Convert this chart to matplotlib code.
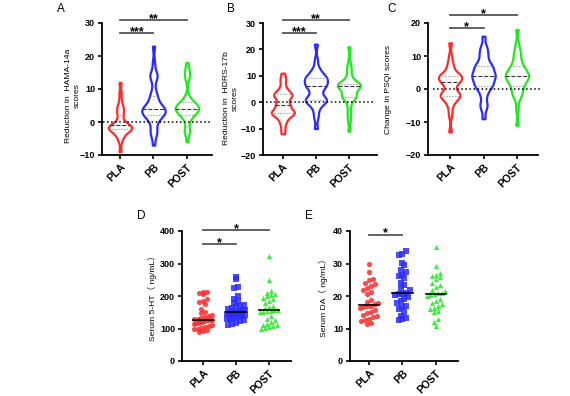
import numpy as np
import matplotlib
matplotlib.use("Agg")
import matplotlib.pyplot as plt

plt.rcParams['font.family'] = ['Liberation Sans', 'Noto Sans CJK SC', 'DejaVu Sans']
plt.rcParams['font.weight'] = 'bold'

groups = ['PLA', 'PB', 'POST']
colors = ['#ff2b2b', '#2b2bff', '#22e822']

# A - reduction in HAMA-14a scores
hama_pla = [-9, -6, -5, -4, -4, -3, -3, -3, -1, -2, -2, -2, -2, -2, -2, -2,
            -1, -1, -1, -1, 0, 0, 1, 2, 3, 3, 4, 5, 5, 7, 9, 12]
hama_pb = [-7, -4, -3, -3, -1, 0, 1, 2, 2, 2, 2, 3, 3, 3, 4, 4,
           4, 4, 4, 5, 5, 6, 7, 8, 8, 10, 13, 14, 14, 15, 18, 23]
hama_post = [-6, -3, -3, -2, 0, 1, 2, 2, 2, 3, 3, 3, 4, 4, 4, 4,
             4, 4, 5, 5, 5, 5, 6, 6, 6, 7, 8, 13, 14, 15, 16, 18]

# B - reduction in HDRS-17b scores
hdrs_pla = [-12, -10, -8, -7, -6, -5, -5, -4, -4, -4, -4, -4, -3, -3, -2, -1,
            -1, -1, 0, 1, 2, 2, 3, 3, 3, 3, 4, 5, 6, 8, 9, 11]
hdrs_pb = [-10, -6, -4, -2, -1, 0, 0, 1, 1, 1, 1, 2, 3, 4, 5, 6,
           6, 6, 7, 7, 8, 8, 9, 9, 9, 10, 10, 11, 12, 13, 16, 22]
hdrs_post = [-11, -7, -5, -3, -1, 1, 2, 2, 2, 2, 3, 3, 4, 5, 5, 6,
             6, 6, 6, 6, 7, 7, 7, 7, 7, 8, 9, 10, 12, 13, 15, 21]

# C - change in PSQI scores
psqi_pla = [-13, -8, -6, -4, -4, -3, -2, -2, -2, -2, -2, -1, -1, 0, 1, 2,
            2, 2, 3, 3, 3, 4, 4, 4, 4, 4, 5, 6, 7, 8, 10, 14]
psqi_pb = [-9, -6, -5, -4, -2, -1, 0, 1, 1, 1, 2, 2, 3, 3, 4, 4,
           4, 4, 5, 5, 6, 6, 7, 7, 7, 8, 9, 10, 11, 12, 13, 16]
psqi_post = [-11, -6, -3, -2, -1, -1, 0, 1, 1, 2, 2, 3, 3, 3, 4, 4,
             4, 4, 5, 5, 5, 6, 6, 7, 7, 8, 9, 10, 11, 12, 14, 18]

# D - serum 5-HT (ng/mL)
ht_pla = [213, 211, 209, 207, 190, 186, 182, 175, 160, 152, 148, 143, 138, 135, 132, 130, 128,
          127, 126, 125, 122, 120, 118, 116, 113, 110, 108, 105, 102, 100, 97, 95, 92, 90]
ht_pb = [258, 252, 228, 224, 200, 192, 185, 178, 172, 168, 165, 162, 160, 158, 156, 154, 152,
         151, 150, 148, 146, 144, 142, 140, 138, 135, 132, 130, 128, 125, 122, 118, 115, 112]
ht_post = [322, 248, 215, 210, 206, 204, 200, 195, 190, 185, 178, 170, 165, 162, 158, 156,
           155, 154, 152, 150, 140, 130, 125, 120, 115, 112, 110, 108, 105, 103, 100]

# E - serum DA (ng/mL)
da_pla = [29.7, 27.3, 25.2, 24.8, 24.0, 23.6, 23.2, 22.5, 22.0, 21.2, 20.5, 18.8, 18.3, 17.8, 17.4,
          17.0, 16.8, 16.5, 16.2, 15.6, 15.2, 14.8, 14.3, 13.8, 13.5, 13.0, 12.6, 12.2, 11.8, 11.3]
da_pb = [33.8, 33.0, 32.5, 30.2, 29.5, 28.0, 27.5, 26.5, 26.2, 25.5, 24.0, 23.5, 22.5, 21.8, 21.0,
         20.7, 20.5, 20.2, 19.8, 19.0, 18.5, 18.0, 17.0, 16.5, 16.0, 15.0, 14.0, 13.2, 12.8, 12.5]
da_post = [35.0, 29.2, 27.0, 26.5, 26.2, 25.8, 25.3, 24.0, 23.5, 22.8, 22.0, 21.5, 21.0, 20.8, 20.6,
           20.4, 20.0, 19.2, 18.5, 18.0, 17.5, 16.8, 16.3, 16.0, 15.5, 15.0, 13.0, 12.0, 10.8]

fig = plt.figure(figsize=(5.7, 3.96), dpi=100)
W, H = 570, 396


def add_ax(l, r, t, b):
    return fig.add_axes([l / W, 1 - b / H, (r - l) / W, (b - t) / H])


def style(ax, yticks, xlim, ylabel, labpos, letter, lpos):
    ax.spines[['top', 'right']].set_visible(False)
    for s in ['left', 'bottom']:
        ax.spines[s].set_linewidth(1.3)
    ax.set_ylim(yticks[0], yticks[-1])
    ax.set_yticks(yticks)
    ax.set_xlim(*xlim)
    ax.set_xticks(range(3))
    ax.set_xticklabels(groups, rotation=45, ha='right', rotation_mode='anchor')
    ax.tick_params(labelsize=6.5, width=1.2, length=3, pad=2)
    ax.tick_params(axis='x', labelsize=7.5)
    ax.set_ylabel(ylabel, fontsize=6.1, linespacing=1.4)
    ax.yaxis.set_label_coords(*labpos)
    ax.text(lpos[0], lpos[1], letter, transform=ax.transAxes, fontsize=8.5, fontweight='normal',
            ha='left', va='bottom')


def violin(ax, data):
    parts = ax.violinplot(data, positions=range(3), widths=0.7, showextrema=False, bw_method=0.22)
    for i, body in enumerate(parts['bodies']):
        body.set_alpha(1)
        body.set_facecolor('white')
        body.set_edgecolor(colors[i])
        body.set_linewidth(1.6)
        # half width of the violin at the quartiles, taken from its outline
        v = body.get_paths()[0].vertices
        right = v[v[:, 0] > i]
        order = np.argsort(right[:, 1])
        ys, xs = right[order, 1], right[order, 0]
        q1, med, q3 = np.percentile(data[i], [25, 50, 75])
        for q, ls, c in [(q1, ':', '#888888'), (med, '--', '#333333'), (q3, ':', '#888888')]:
            hw = np.interp(q, ys, xs) - i
            ax.plot([i - hw, i + hw], [q, q], ls=ls, color=c, lw=0.8, zorder=3)
    ax.plot([-0.5, 2.75], [0, 0], ls=':', color='black', lw=1.1, zorder=1, clip_on=False)


def spread(vals, binw, step, maxw=0.28):
    # scatter dot plot offsets: points in the same value bin are set side by side
    vals = np.asarray(vals, float)
    xs = np.zeros_like(vals)
    bins = np.floor(vals / binw)
    for b in np.unique(bins):
        idx = np.where(bins == b)[0]
        idx = idx[np.argsort(vals[idx])]
        n = len(idx)
        st = step if n < 2 else min(step, 2 * maxw / (n - 1))
        xs[idx] = (np.arange(n) - (n - 1) / 2) * st
    return xs


def dots(ax, data, binw):
    for i, (vals, m) in enumerate(zip(data, ['o', 's', '^'])):
        x = i + spread(vals, binw, 0.115)
        ax.scatter(x, vals, marker=m, s=14, color=colors[i], linewidths=0, alpha=0.85, zorder=2)
        med = np.median(vals)
        ax.plot([i - 0.3, i + 0.3], [med, med], color='black', lw=1.2, zorder=3)


def sig(ax, x0, x1, y, text):
    ax.plot([x0, x1], [y, y], color='#555555', lw=1.3, clip_on=False)
    ax.annotate(text, ((x0 + x1) / 2, y), xytext=(0, -1.5), textcoords='offset points',
                ha='center', va='baseline', fontsize=9, annotation_clip=False)


axA = add_ax(102, 212, 23, 155)
violin(axA, [hama_pla, hama_pb, hama_post])
style(axA, [-10, 0, 10, 20, 30], (-0.54, 2.75), 'Reduction in  HAMA-14a\nscores', (-0.19, 0.45),
      'A', (-0.41, 1.06))
sig(axA, 0, 1, 27, '***')
sig(axA, 0, 2, 30.8, '**')

axB = add_ax(263, 377, 23, 155)
violin(axB, [hdrs_pla, hdrs_pb, hdrs_post])
style(axB, [-20, -10, 0, 10, 20, 30], (-0.6, 2.85), 'Reduction in  HDRS-17b\nscores', (-0.21, 0.43),
      'B', (-0.32, 1.06))
sig(axB, 0, 1, 26.2, '***')
sig(axB, 0, 2, 31, '**')

axC = add_ax(428, 538, 23, 155)
violin(axC, [psqi_pla, psqi_pb, psqi_post])
style(axC, [-20, -10, 0, 10, 20], (-0.66, 2.63), 'Change in PSQI scores', (-0.33, 0.5),
      'C', (-0.37, 1.06))
sig(axC, 0, 1, 18.6, '*')
sig(axC, 0, 2, 22.3, '*')

axD = add_ax(182, 291, 231, 361)
dots(axD, [ht_pla, ht_pb, ht_post], 16)
style(axD, [0, 100, 200, 300, 400], (-0.64, 2.67), 'Serum 5-HT（ ng/mL）', (-0.23, 0.5),
      'D', (-0.41, 1.07))
sig(axD, 0, 1, 360, '*')
sig(axD, 0, 2, 404, '*')

axE = add_ax(350, 458, 231, 361)
dots(axE, [da_pla, da_pb, da_post], 2.0)
style(axE, [0, 10, 20, 30, 40], (-0.57, 2.66), 'Serum DA（ ng/mL）', (-0.2, 0.5),
      'E', (-0.42, 1.07))
sig(axE, 0, 1, 38.9, '*')

fig.savefig('out.png', dpi=100)
